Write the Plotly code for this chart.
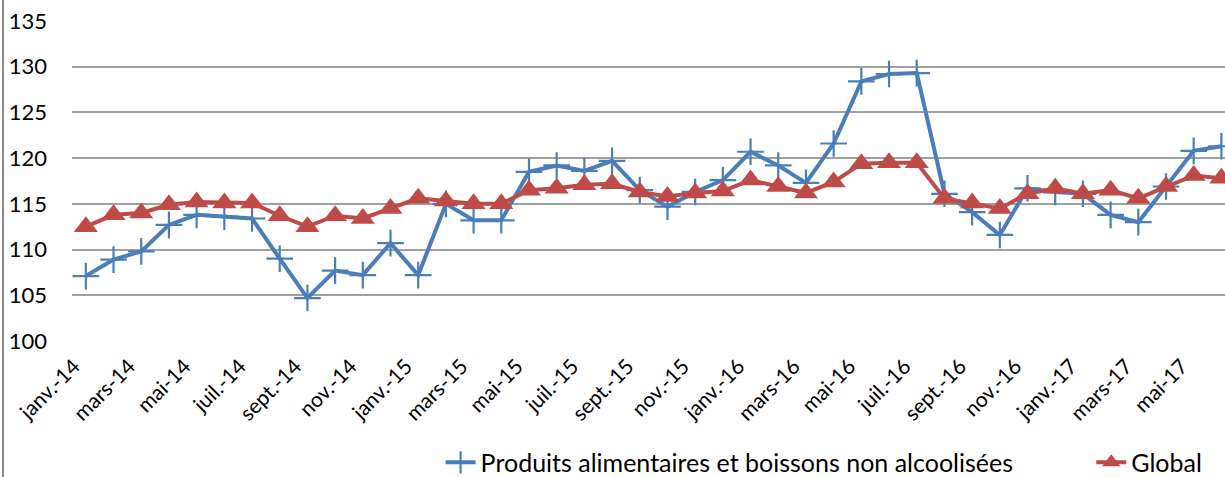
import plotly.graph_objects as go

months = ["janv.", "févr.", "mars", "avr.", "mai", "juin", "juil.", "août", "sept.", "oct.", "nov.", "déc."]
years = ["14", "15", "16", "17"]
categories = [f"{m}-{y}" for y in years for m in months][:42]

alimentaires = [107.1, 108.9, 109.8, 112.7, 113.8, 113.6, 113.4, 109.0, 104.7, 107.7, 107.2, 110.7,
                107.2, 115.0, 113.2, 113.2, 118.5, 119.2, 118.6, 119.7, 116.5, 114.7, 116.3, 117.6,
                120.7, 119.2, 117.3, 121.6, 128.4, 129.2, 129.3, 116.1, 114.1, 111.6, 116.7, 116.3,
                116.1, 113.8, 113.0, 116.9, 120.8, 121.3]
global_idx = [112.5, 113.8, 114.0, 114.9, 115.2, 115.1, 115.1, 113.7, 112.5, 113.7, 113.4, 114.5,
              115.6, 115.3, 115.0, 115.0, 116.5, 116.7, 117.1, 117.2, 116.3, 115.8, 116.2, 116.4,
              117.6, 116.9, 116.2, 117.4, 119.4, 119.5, 119.5, 115.6, 115.1, 114.5, 116.1, 116.7,
              116.1, 116.5, 115.6, 116.9, 118.1, 117.8]
tick_labels = categories[::2]
y_ticks = [100, 105, 110, 115, 120, 125, 130, 135]

BLUE = "#4A7EBB"
RED = "#BE4B48"
FONT = "Lato"

fig = go.Figure()
fig.add_trace(go.Scatter(
    x=categories, y=alimentaires, mode="lines+markers",
    name="Produits alimentaires et boissons non alcoolisées",
    line=dict(color=BLUE, width=4),
    marker=dict(symbol="cross-thin", size=19, line=dict(color=BLUE, width=2.2), color=BLUE),
    cliponaxis=False, legend="legend",
))
fig.add_trace(go.Scatter(
    x=categories, y=global_idx, mode="lines+markers",
    name="Global",
    line=dict(color=RED, width=4),
    marker=dict(symbol="triangle-up", size=21, color=RED),
    cliponaxis=False, legend="legend2",
))

legend_common = dict(
    orientation="h", xanchor="left", y=-0.38, yanchor="middle",
    font=dict(size=25, family=FONT, color="#000000"),
    bgcolor="rgba(0,0,0,0)",
)

fig.update_layout(
    width=1225, height=477,
    margin=dict(l=72, r=0, t=21, b=136, autoexpand=False),
    paper_bgcolor="white", plot_bgcolor="white",
    font=dict(family=FONT, color="#000000"),
    showlegend=True,
    legend=dict(x=0.3197, **legend_common),
    legend2=dict(x=0.884, **legend_common),
    xaxis=dict(
        type="category", range=[-0.5, 41.13], automargin=False,
        tickmode="array", tickvals=tick_labels, ticktext=tick_labels,
        tickangle=-45, tickfont=dict(size=21, family=FONT, color="#000000"),
        ticklabelshift=-12, ticklabelstandoff=8,
        showgrid=False, showline=False, ticks="", zeroline=False,
    ),
    yaxis=dict(
        range=[100, 135], tickmode="array", tickvals=y_ticks, automargin=False,
        tickfont=dict(size=22, family=FONT, color="#000000"),
        showgrid=True, gridcolor="#A0A0A0", gridwidth=1.5,
        showline=False, zeroline=False, ticks="", ticklabelstandoff=24,
    ),
    shapes=[dict(type="line", xref="paper", yref="paper",
                 x0=-69 / 1153, x1=-69 / 1153, y0=-136 / 320, y1=1 + 21 / 320,
                 line=dict(color="#8C8C8C", width=2))],
)

fig.write_html("out.html", config={"displayModeBar": False},
               post_script="document.body.style.margin='0';document.body.style.overflow='hidden';")
